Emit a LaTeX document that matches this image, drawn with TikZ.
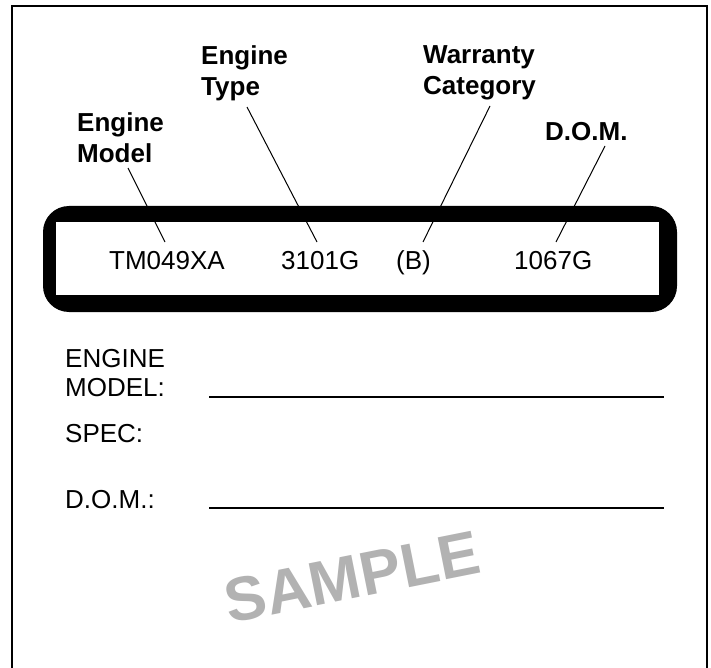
\documentclass[tikz,border=0pt]{standalone}
\usepackage{fontspec}
\setmainfont{Liberation Sans}
\definecolor{samplegray}{RGB}{178,178,178}
\tikzset{
  lbl/.style={font=\fontsize{26}{31}\selectfont\bfseries, inner sep=0pt, anchor=north west, align=left},
  val/.style={font=\fontsize{26}{31}\selectfont, inner sep=0pt, anchor=base west},
  leader/.style={line width=1pt},
  rule/.style={line width=2pt},
}
\begin{document}
\begin{tikzpicture}[x=1pt,y=-1pt]
\useasboundingbox (0,0) rectangle (711,668);
% outer frame (open at the bottom)
\draw[line width=2pt, miter limit=10] (12,670) -- (12,6) -- (706.5,6) -- (706.5,670);
% thick rounded band
\fill[black, rounded corners=26pt] (43,206) rectangle (677,312);
\fill[white] (56,222) rectangle (659,295);
% labels
\node[lbl] (lmodel) at (77,112.4) {Engine\\Model};
\node[lbl] (ltype) at (201,45.4) {Engine\\Type};
\node[lbl] (lwarr) at (423,45.4) {Warranty\\Category};
\node[lbl] (ldom) at (545,122.4) {D.O.M.};
% values
\node[val] (vmodel) at (109,269) {TM049XA};
\node[val] (vtype) at (281,269) {3101G};
\node[val] (vwarr) at (396,269) {(B)};
\node[val] (vdom) at (514,269) {1067G};
% leader end points
\coordinate (s1) at (128,168); \coordinate (e1) at (165,242);
\coordinate (s2) at (247,107); \coordinate (e2) at (317,242);
\coordinate (s3) at (490,106); \coordinate (e3) at (423,242);
\coordinate (s4) at (605,146); \coordinate (e4) at (556,242);
\draw[leader] (s1) -- (e1);
\draw[leader] (s2) -- (e2);
\draw[leader] (s3) -- (e3);
\draw[leader] (s4) -- (e4);
% form fields
\node[val] (fengine) at (65,367) {ENGINE};
\node[val] (fmodel) at (65,396) {MODEL:};
\node[val] (fspec) at (65,442) {SPEC:};
\node[val] (fdom) at (65,508) {D.O.M.:};
\coordinate (m1) at (209,397); \coordinate (m2) at (664,397);
\coordinate (d1) at (209,508); \coordinate (d2) at (664,508);
\draw[rule] (m1) -- (m2);
\draw[rule] (d1) -- (d2);
% watermark
\node[font=\fontsize{62}{62}\selectfont\bfseries, text=samplegray, rotate=11.3, inner sep=0pt] (smp) at (352,577) {SAMPLE};
\end{tikzpicture}
\end{document}
